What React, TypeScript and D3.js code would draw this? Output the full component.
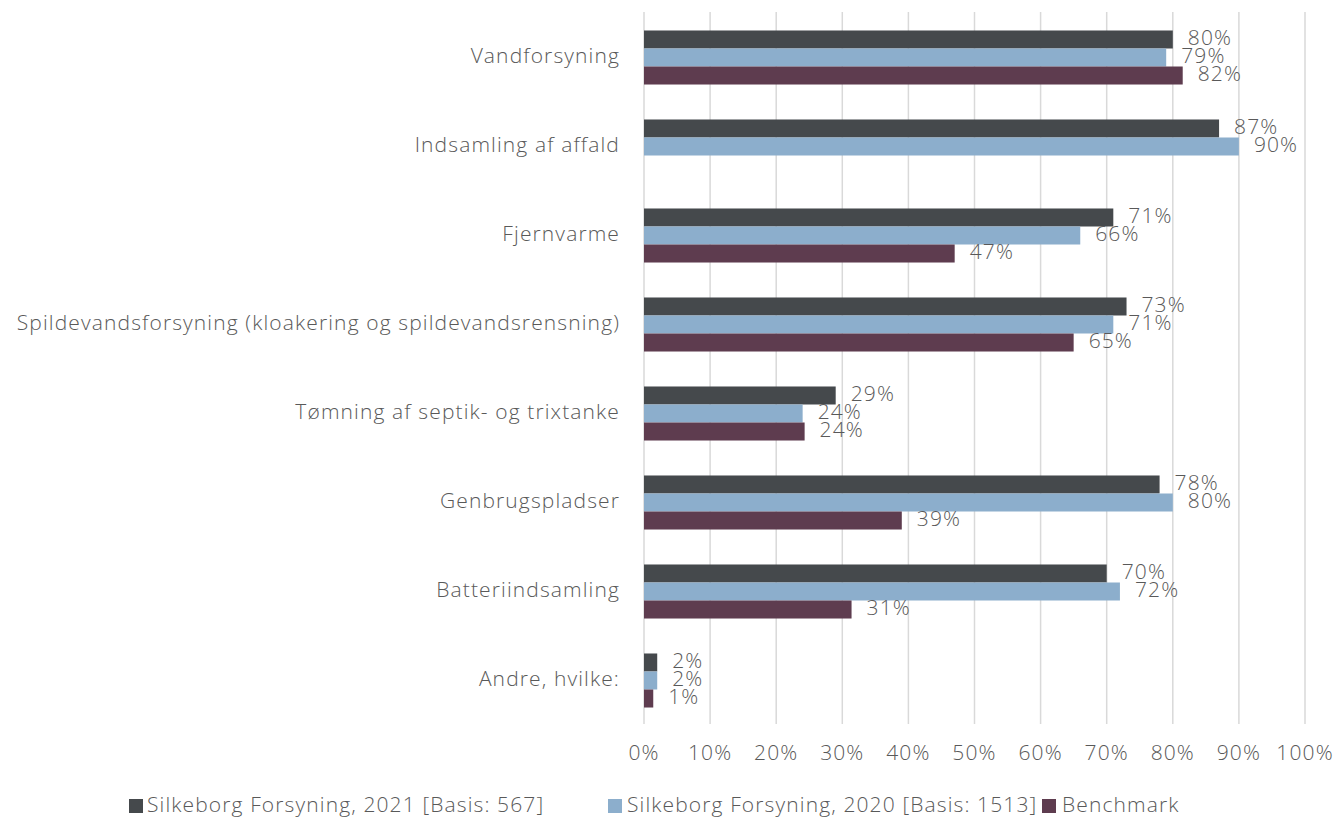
import React from "react";
import * as d3 from "d3";

const categories = [
  "Vandforsyning",
  "Indsamling af affald",
  "Fjernvarme",
  "Spildevandsforsyning (kloakering og spildevandsrensning)",
  "Tømning af septik- og trixtanke",
  "Genbrugspladser",
  "Batteriindsamling",
  "Andre, hvilke:",
];

const seriesNames = [
  "Silkeborg Forsyning, 2021 [Basis: 567]",
  "Silkeborg Forsyning, 2020 [Basis: 1513]",
  "Benchmark",
];

const values2021 = [80, 87, 71, 73, 29, 78, 70, 2];
const values2020 = [79, 90, 66, 71, 24, 80, 72, 2];
const valuesBenchmark: (number | null)[] = [81.5, null, 47, 65, 24.3, 39, 31.4, 1.4];

const xTicks = [0, 10, 20, 30, 40, 50, 60, 70, 80, 90, 100];

const colors = ["#45494c", "#8caecc", "#5e3c4f"];

const W = 1335;
const H = 819;
const FONT = "'Open Sans', 'Noto Sans', sans-serif";
const TEXT = "#595959";
const FS = 21;
const LS = 1.12;

export default function App() {
  const x = d3.scaleLinear().domain([0, 100]).range([644, 1305]);
  const y = d3
    .scaleBand<string>()
    .domain(categories)
    .range([13, 725])
    .paddingInner(0.393)
    .paddingOuter(0.1965);
  const sub = d3
    .scaleBand<string>()
    .domain(["0", "1", "2"])
    .range([0, y.bandwidth()]);

  const allSeries = [values2021, values2020, valuesBenchmark];

  const legendItems = [
    { sx: 129, tx: 147 },
    { sx: 608, tx: 627 },
    { sx: 1042, tx: 1062 },
  ];

  const textProps = {
    fontSize: FS,
    fontWeight: 300,
    fill: TEXT,
    letterSpacing: LS,
    dominantBaseline: "middle" as const,
  };

  return (
    <svg
      width={W}
      height={H}
      style={{ position: "absolute", left: 0, top: 0, background: "#fff" }}
      fontFamily={FONT}
    >
      {xTicks.map((t) => (
        <g key={t}>
          <line
            x1={x(t)}
            x2={x(t)}
            y1={12}
            y2={724}
            stroke="#d9d9d9"
            strokeWidth={1.5}
          />
          <text x={x(t)} y={754} textAnchor="middle" {...textProps}>
            {t}%
          </text>
        </g>
      ))}
      {categories.map((c, i) => {
        const y0 = y(c)!;
        return (
          <g key={c}>
            <text
              x={620}
              y={y0 + y.bandwidth() / 2}
              textAnchor="end"
              {...textProps}
            >
              {c}
            </text>
            {allSeries.map((s, j) => {
              const v = s[i];
              if (v === null || v === undefined) return null;
              const by = y0 + sub(String(j))!;
              const bh = sub.bandwidth();
              return (
                <g key={j}>
                  <rect
                    x={x(0)}
                    y={by}
                    width={x(v) - x(0)}
                    height={bh}
                    fill={colors[j]}
                  />
                  <text x={x(v) + 15} y={by + bh / 2} {...textProps}>
                    {Math.round(v)}%
                  </text>
                </g>
              );
            })}
          </g>
        );
      })}
      {seriesNames.map((n, j) => (
        <g key={n}>
          <rect
            x={legendItems[j].sx}
            y={799}
            width={14}
            height={14}
            fill={colors[j]}
          />
          <text x={legendItems[j].tx} y={806} {...textProps}>
            {n}
          </text>
        </g>
      ))}
    </svg>
  );
}
